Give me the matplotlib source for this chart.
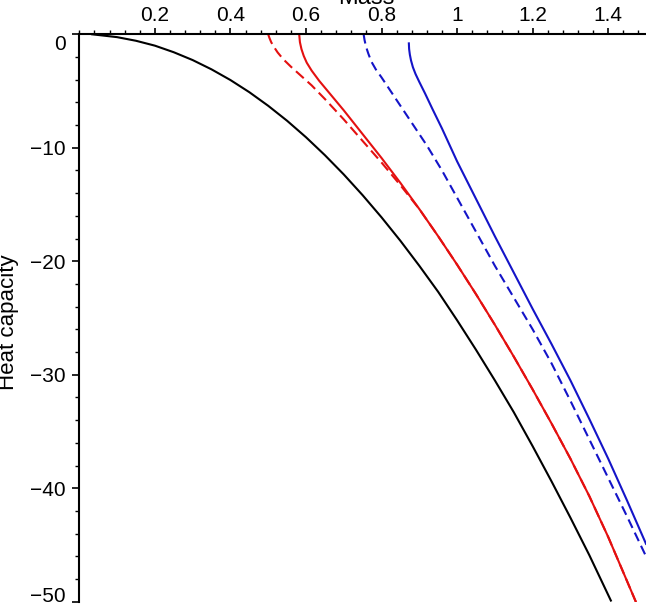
import matplotlib
matplotlib.use("Agg")
import matplotlib.pyplot as plt
from matplotlib.ticker import MultipleLocator, FuncFormatter

# ---- data (Mass, Heat capacity) ----
black_m = [0.034, 0.10, 0.15, 0.20, 0.25, 0.30, 0.35, 0.40, 0.45, 0.50, 0.55, 0.60, 0.65,
           0.70, 0.75, 0.80, 0.85, 0.90, 0.95, 1.00, 1.05, 1.10, 1.15, 1.20, 1.25, 1.30,
           1.35, 1.407]
black_c = [0.0, -0.25, -0.57, -1.0, -1.58, -2.27, -3.09, -4.03, -5.1, -6.3, -7.62, -9.07,
           -10.65, -12.35, -14.18, -16.13, -18.2, -20.4, -22.7, -25.2, -27.8, -30.5, -33.3,
           -36.3, -39.4, -42.6, -45.9, -49.9]

red_solid_m = [0.582, 0.584, 0.588, 0.594, 0.602, 0.615, 0.635, 0.66, 0.70, 0.75, 0.80,
               0.85, 0.90, 0.95, 1.00, 1.05, 1.10, 1.15, 1.20, 1.25, 1.30, 1.35, 1.40,
               1.45, 1.473]
red_solid_c = [0.0, -0.7, -1.3, -1.9, -2.5, -3.2, -4.1, -5.1, -6.7, -8.8, -10.9,
               -13.1, -15.4, -17.8, -20.3, -22.9, -25.6, -28.4, -31.3, -34.3, -37.4, -40.7,
               -44.3, -48.2, -50.0]

red_dash_m = [0.500, 0.503, 0.508, 0.515, 0.525, 0.54, 0.56, 0.585, 0.615, 0.65, 0.70,
              0.75, 0.80, 0.85, 0.90, 0.95, 1.00, 1.05, 1.10, 1.15, 1.20, 1.25, 1.30,
              1.35, 1.40, 1.45, 1.473]
red_dash_c = [0.0, -0.3, -0.7, -1.1, -1.6, -2.2, -2.85, -3.6, -4.5, -5.7, -7.5,
              -9.4, -11.3, -13.3, -15.4, -17.8, -20.3, -22.9, -25.6, -28.4, -31.3, -34.3,
              -37.4, -40.7, -44.3, -48.2, -50.0]

blue_solid_m = [0.8723, 0.873, 0.875, 0.878, 0.883, 0.89, 0.90, 0.915, 0.935, 0.96, 1.0,
                1.05, 1.10, 1.15, 1.20, 1.25, 1.30, 1.35, 1.40, 1.45, 1.50]
blue_solid_c = [-0.8, -1.3, -1.8, -2.3, -2.9, -3.5, -4.2, -5.2, -6.6, -8.3, -11.2,
                -14.5, -17.8, -21.0, -24.2, -27.3, -30.5, -33.9, -37.4, -41.1, -44.9]

blue_dash_m = [0.7526, 0.755, 0.759, 0.765, 0.773, 0.785, 0.80, 0.82, 0.85, 0.88, 0.92,
               0.96, 1.00, 1.05, 1.10, 1.15, 1.20, 1.25, 1.30, 1.35, 1.40, 1.45, 1.50]
blue_dash_c = [0.0, -0.5, -1.1, -1.7, -2.4, -3.1, -3.8, -4.8, -6.3, -7.8, -9.8,
               -12.0, -14.4, -17.4, -20.4, -23.2, -26.0, -29.0, -32.3, -35.7, -39.1, -42.5,
               -46.0]

x_ticks = [0.2, 0.4, 0.6, 0.8, 1.0, 1.2, 1.4]
y_ticks = [0, -10, -20, -30, -40, -50]

plt.rcParams['font.family'] = ['Liberation Sans', 'DejaVu Sans']

W, H = 646, 610
fig = plt.figure(figsize=(W / 100, H / 100), dpi=100)
ax = fig.add_axes([79.3 / W, 1 - 601.7 / H, 1 - 79.3 / W, (601.7 - 34.3) / H])

RED = '#e41010'
BLUE = '#1414c8'
lw = 1.5
ax.plot(black_m, black_c, color='black', lw=lw)
ax.plot(red_dash_m, red_dash_c, color=RED, lw=lw, dashes=(5, 2.5))
ax.plot(red_solid_m, red_solid_c, color=RED, lw=lw)
ax.plot(blue_dash_m, blue_dash_c, color=BLUE, lw=lw, dashes=(4.5, 2.5))
ax.plot(blue_solid_m, blue_solid_c, color=BLUE, lw=lw)

ax.set_xlim(0, 1.5)
ax.set_ylim(-50, 0)

for s in ['right', 'bottom']:
    ax.spines[s].set_visible(False)
ax.spines['top'].set_linewidth(1.5)
ax.spines['left'].set_linewidth(1.5)

ax.xaxis.tick_top()
ax.set_xticks(x_ticks)
ax.xaxis.set_minor_locator(MultipleLocator(0.04))
ax.set_yticks(y_ticks)
ax.yaxis.set_minor_locator(MultipleLocator(2))

def xfmt(v, pos):
    return "1" if abs(v - 1) < 1e-9 else f"{v:.1f}"

# end labels (0 and -50) are drawn separately, shifted like in the reference
edge_labels = {0: (0, 7.5), -50: (-50, -3.5)}

def yfmt(v, pos):
    if any(abs(v - k) < 1e-9 for k in edge_labels):
        return ""
    return f"{int(round(v))}".replace("-", "\u2212")

ax.xaxis.set_major_formatter(FuncFormatter(xfmt))
ax.yaxis.set_major_formatter(FuncFormatter(yfmt))

FS = 15
ax.tick_params(axis='both', which='major', length=5, width=1.2, labelsize=FS, direction='out')
ax.tick_params(axis='both', which='minor', length=3, width=1.0, direction='out')
ax.tick_params(axis='x', which='major', length=4.2, pad=2.2)
ax.tick_params(axis='y', which='major', pad=4.8)

for val, (yv, dy) in edge_labels.items():
    txt = "0" if val == 0 else f"{val}".replace("-", "\u2212")
    ax.annotate(txt, xy=(0, yv), xycoords='data', xytext=(-9.8, -dy),
                textcoords='offset points', ha='right', va='center', fontsize=FS,
                annotation_clip=False)

fig.text(366 / W, 1 - 4 / H, 'Mass', ha='center', va='baseline', fontsize=17)
fig.text(9 / W, 1 - 322 / H, 'Heat capacity', ha='center', va='center',
         rotation=90, fontsize=16)

fig.savefig('out.png', dpi=100)
